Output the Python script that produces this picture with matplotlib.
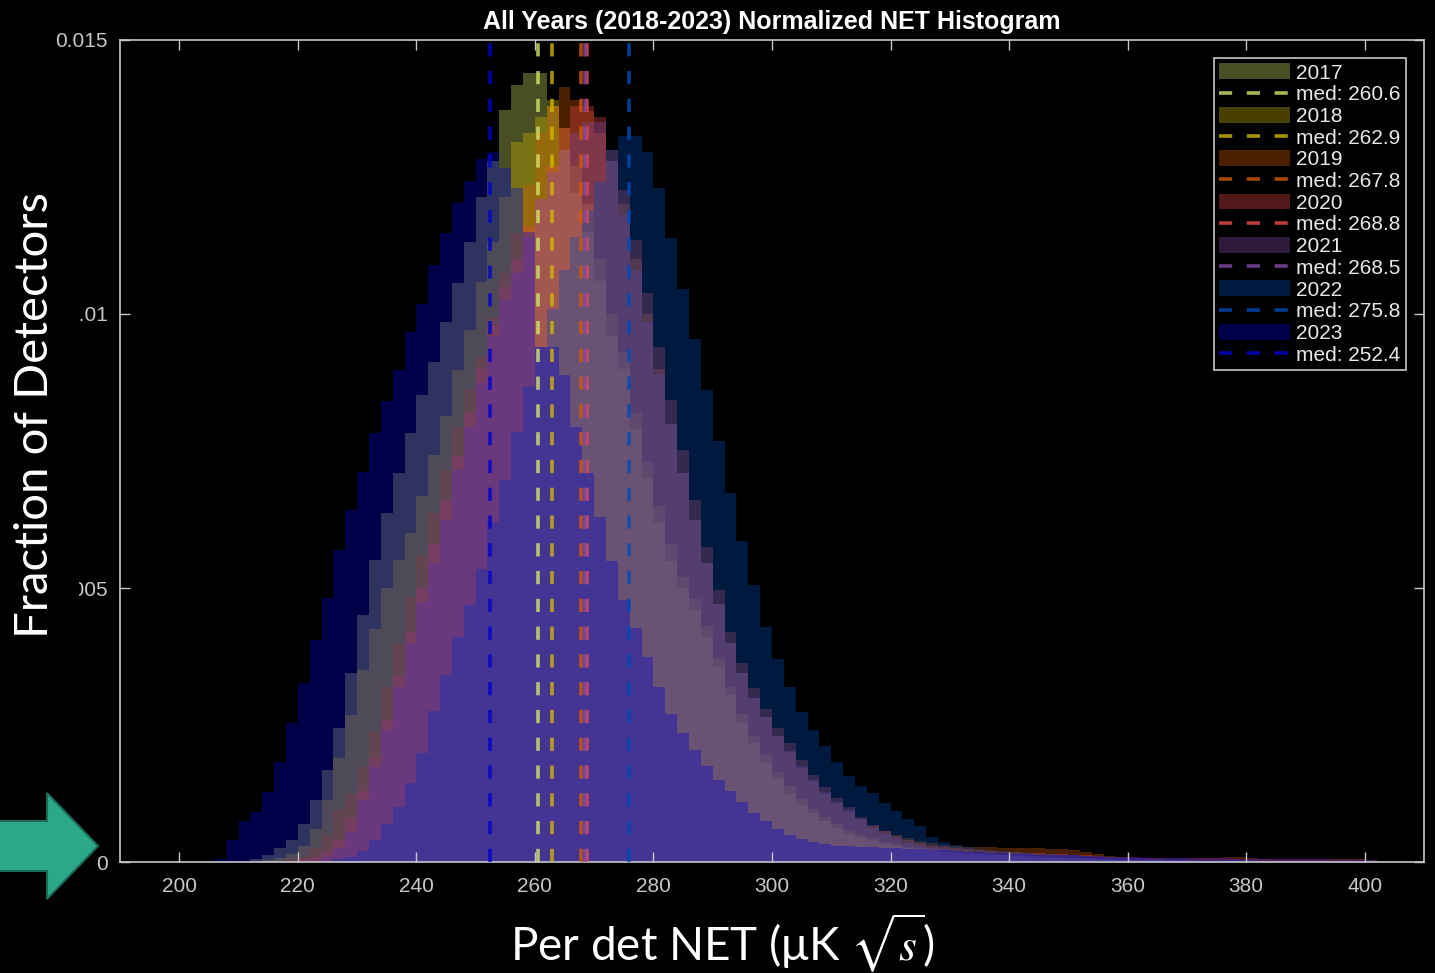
import numpy as np
import matplotlib
matplotlib.use("Agg")
import matplotlib.pyplot as plt
from matplotlib.patches import FancyArrow, Rectangle

plt.rcParams['lines.scale_dashes'] = False
plt.rcParams['mathtext.fontset'] = 'stix'

# 2-unit bins of per-detector NET, left edges 204 ... 400
edges = np.arange(204, 404, 2)

years = ['2017', '2018', '2019', '2020', '2021', '2022', '2023']
medians = [260.6, 262.9, 267.8, 268.8, 268.5, 275.8, 252.4]

# normalized counts per bin, in units of 1e-4
h2017 = [0, 0, 0, 0, 0.5, 1.2, 2.5, 4, 7, 11.3,
         16.8, 24.4, 34.4, 45.1, 55.1, 63.6, 70.9, 78.2, 85.2, 91.3,
         98.6, 105.6, 113.2, 121.4, 128, 137.2, 141.8, 144, 144, 138,
         130, 122, 115, 106, 96, 90, 79, 70, 62, 55,
         50, 46, 41, 35.6, 30.5, 25.6, 21.7, 18, 15.3, 12.5,
         10.4, 8.9, 7.4, 6.2, 5.2, 4.4, 3.8, 3.3, 2.9, 2.6,
         2.3, 2.1, 1.9, 1.7, 1.5, 1.4, 1.3, 1.2, 1.1, 1,
         0.9, 0.8, 0.7, 0.6, 0.5, 0.5, 0.4, 0.4, 0.3, 0.3,
         0.3, 0.2, 0.2, 0.2, 0.2, 0.1, 0.1, 0.1, 0.1, 0.1,
         0, 0, 0, 0, 0, 0, 0, 0, 0]
h2018 = [0, 0, 0, 0, 0, 0.3, 0.7, 1.5, 3, 6,
         11.3, 19, 26.8, 35, 42.6, 50, 55.1, 60, 66.7, 74.3,
         81.3, 89.8, 97.1, 105.9, 113.2, 121.4, 131.4, 133, 136, 139,
         134, 127, 120, 110, 100, 93, 82, 73, 65, 58,
         52, 48, 43, 37, 32, 27, 23, 19.5, 16.5, 13.8,
         11.5, 9.7, 8.2, 6.9, 5.8, 5, 4.3, 3.7, 3.2, 2.8,
         2.5, 2.2, 2, 1.8, 1.6, 1.5, 1.4, 1.3, 1.2, 1.1,
         1, 0.9, 0.8, 0.7, 0.6, 0.5, 0.5, 0.4, 0.4, 0.3,
         0.3, 0.3, 0.2, 0.2, 0.2, 0.2, 0.1, 0.1, 0.1, 0.1,
         0, 0, 0, 0, 0, 0, 0, 0, 0]
h2019 = [0, 0, 0, 0, 0, 0, 0, 0.5, 1, 2.5,
         5, 9.5, 12.5, 17.4, 23.8, 31.9, 39.8, 48.4, 55.8, 63.6,
         71.5, 79.4, 86.4, 92.2, 99.5, 107.4, 114.8, 123.5, 133, 138,
         141.5, 139, 137, 133, 128, 120, 110, 100, 90, 80,
         71, 62.5, 54.5, 47, 40, 34.5, 30, 26.5, 23, 20,
         17.2, 14.7, 12.5, 10.7, 9.2, 7.8, 6.6, 5.6, 4.9, 4.3,
         3.8, 3.4, 3.1, 2.9, 2.8, 2.7, 2.7, 2.6, 2.6, 2.5,
         2.5, 2.4, 2.3, 2.1, 1.8, 1.4, 1.1, 0.9, 0.8, 0.7,
         0.7, 0.6, 0.6, 0.6, 0.7, 0.8, 0.9, 1, 0.8, 0.5,
         0.4, 0.4, 0.3, 0.3, 0.3, 0.3, 0.3, 0.2, 0.2]
h2020 = [0, 0, 0, 0, 0, 0, 0, 0, 0.5, 1,
         2, 4, 8, 13, 19, 26, 34, 42, 50, 58,
         66, 74, 82, 90, 98, 105, 110, 116, 121, 127,
         134, 138, 138, 136, 130, 122.6, 113.5, 103.8, 94, 84.3,
         75.2, 66, 57.5, 49.6, 42, 36.3, 31.7, 28, 24.5, 21.7,
         18.6, 15.9, 13.7, 11.7, 10.1, 8.3, 6.8, 5.6, 4.7, 4,
         3.4, 3, 2.7, 2.5, 2.3, 2.1, 2, 1.9, 1.8, 1.7,
         1.6, 1.5, 1.4, 1.3, 1.2, 1.1, 1, 0.9, 0.9, 0.8,
         0.8, 0.8, 0.7, 0.7, 0.7, 0.7, 0.6, 0.6, 0.6, 0.6,
         0.6, 0.5, 0.5, 0.5, 0.5, 0.5, 0.5, 0.5, 0.4]
h2021 = [0, 0, 0, 0, 0, 0, 0, 0, 0, 0,
         1, 2.5, 5.5, 11.3, 17.4, 24, 32, 40, 47.5, 54.5,
         62.4, 71.5, 79.4, 87.4, 95.9, 102.6, 107.5, 114, 121, 126,
         130, 133, 135, 135, 128, 118, 108, 98.5, 89, 80,
         71, 62.5, 54.5, 47, 40, 34.5, 30, 26.5, 23, 20.3,
         17.5, 15, 12.8, 11, 9.4, 7.8, 6.2, 5.1, 4.2, 3.5,
         3, 2.6, 2.3, 2, 1.8, 1.6, 1.5, 1.4, 1.3, 1.2,
         1.1, 1, 0.9, 0.8, 0.7, 0.6, 0.5, 0.5, 0.4, 0.4,
         0.3, 0.3, 0.3, 0.2, 0.2, 0.2, 0.2, 0.1, 0.1, 0.1,
         0.1, 0.1, 0, 0, 0, 0, 0, 0, 0]
h2022 = [0, 0, 0, 0, 0, 0, 0, 0, 0, 0,
         0, 0.5, 1, 2, 4, 7, 10.1, 14.5, 19.8, 27.6,
         34.1, 41.1, 46.9, 53.4, 62.1, 69.7, 78.5, 86.7, 94, 101,
         108, 114, 119, 124, 130, 132.5, 132.5, 129.6, 123, 113.8,
         104.5, 95.4, 86.1, 76.9, 67.3, 58.5, 50.6, 42.8, 37, 32,
         27.4, 24.1, 21.1, 18.2, 15.7, 13.9, 12.6, 10.8, 9.3, 7.8,
         6.6, 4.6, 3.7, 3.1, 2.7, 2.4, 2.2, 2, 1.8, 1.6,
         1.5, 1.4, 1.3, 1.2, 1.1, 1, 0.9, 0.8, 0.7, 0.6,
         0.6, 0.5, 0.5, 0.4, 0.4, 0.4, 0.3, 0.3, 0.3, 0.2,
         0.2, 0.2, 0.2, 0.1, 0.1, 0.1, 0.1, 0.1, 0]
h2023 = [0.2, 0.5, 4, 7.5, 9.2, 12.8, 18.3, 25.3, 32.7, 40.5,
         48.2, 56.9, 64.2, 71.2, 78.3, 84.1, 89.8, 96.7, 101.8, 109,
         114.8, 120.3, 124.3, 128.2, 129.6, 126.6, 123, 115, 94, 94,
         88.9, 79.4, 71, 63, 55, 47.8, 42.7, 37.4, 32, 27,
         23.5, 20.5, 17.5, 15, 13, 11, 9, 7.5, 6, 5,
         4.2, 3.6, 3.2, 3, 2.9, 2.8, 2.7, 2.6, 2.5, 2.4,
         2.3, 2.2, 2.1, 2, 1.9, 1.8, 1.7, 1.6, 1.5, 1.4,
         1.3, 1.3, 1.2, 1.2, 1.1, 1.1, 1, 1, 0.9, 0.9,
         0.8, 0.8, 0.8, 0.7, 0.7, 0.7, 0.7, 0.6, 0.6, 0.6,
         0.6, 0.5, 0.5, 0.5, 0.5, 0.4, 0.4, 0.4, 0.3]
hists = [h2017, h2018, h2019, h2020, h2021, h2022, h2023]

colors = ['#d3e567', '#d3b700', '#d35b00', '#ea4a4a', '#834aa6', '#004ab7', '#0000d3']

W, H = 1435, 973
fig = plt.figure(figsize=(W / 100, H / 100), dpi=100, facecolor='black')
ax = fig.add_axes([120 / W, 111 / H, 1304 / W, 822 / H])
ax.set_facecolor('black')

handles, labels = [], []
for yr, h, c in zip(years, hists, colors):
    p = ax.stairs(np.array(h) * 1e-4, edges, fill=True, color=c, alpha=0.35, linewidth=0)
    handles.append(p)
    labels.append(yr)
    handles.append(None)
    labels.append(None)

for i, (m, c) in enumerate(zip(medians, colors)):
    ln = ax.axvline(m, color=c, lw=2.6, ls=(0, (9.5, 10.5)), alpha=0.8, zorder=3)
    handles[2 * i + 1] = ln
    labels[2 * i + 1] = f'med: {m:.1f}'

ax.set_xlim(190, 410)
ax.set_ylim(0, 0.015)
ax.set_xticks(np.arange(200, 401, 20))
ax.set_yticks([0, 0.005, 0.01, 0.015])
ax.set_yticklabels(['0', '0.005', '0.01', '0.015'])
ax.tick_params(direction='in', length=7, width=1, color='#c8c8c8', labelcolor='#c8c8c8',
               top=True, right=True, labelsize=15, pad=9)
ax.tick_params(axis='x', pad=11)
for lab in ax.get_xticklabels() + ax.get_yticklabels():
    lab.set_family('Liberation Sans')
for sp in ax.spines.values():
    sp.set_color('#c8c8c8')
    sp.set_linewidth(1.2)

ax.set_title('All Years (2018-2023) Normalized NET Histogram', color='white',
             fontweight='bold', fontsize=18, family='Liberation Sans', pad=8)

leg = ax.legend(handles, labels, loc='upper right', bbox_to_anchor=(0.986, 0.978),
                borderaxespad=0, labelcolor='#e8e8e8', facecolor='black',
                edgecolor='#c8c8c8', framealpha=1, fancybox=False, handlelength=3.4,
                handleheight=0.8, handletextpad=0.3, labelspacing=0.12, borderpad=0.25,
                prop={'family': 'Liberation Sans', 'size': 15})
leg.get_frame().set_linewidth(1.2)

# slide annotations on top of the figure
fig.add_artist(Rectangle((0, 1 - 660 / H), 79 / W, 490 / H, transform=fig.transFigure,
                         facecolor='black', edgecolor='none', zorder=5))
fig.text(35 / W, 1 - 415 / H, 'Fraction of Detectors', rotation=90, ha='center', va='center',
         color='white', fontsize=34, family=['Lato', 'DejaVu Sans'], zorder=6)
fig.text(722 / W, 1 - 943 / H, r'Per det NET (μK $\sqrt{s}$)', ha='center', va='center',
         color='white', fontsize=33, family=['Lato', 'DejaVu Sans'], zorder=6)
fig.add_artist(FancyArrow(-0.05, 1.27, 1.03, 0, width=0.5, head_width=1.06, head_length=0.51,
                          length_includes_head=True, transform=fig.dpi_scale_trans,
                          facecolor='#2ba88a', edgecolor='#1b6b58', lw=1.5, zorder=6))

fig.savefig('out.png', dpi=100, facecolor='black')
